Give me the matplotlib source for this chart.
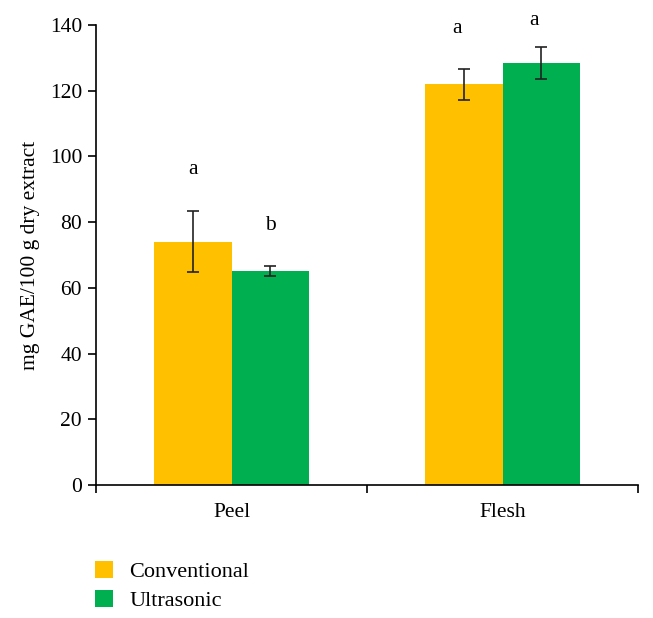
import matplotlib
matplotlib.use("Agg")
import matplotlib.pyplot as plt
import numpy as np
from matplotlib.patches import Patch

categories = ["Peel", "Flesh"]
series = ["Conventional", "Ultrasonic"]
conventional = [74.0, 122.0]
conventional_err = [9.3, 4.7]
ultrasonic = [65.1, 128.4]
ultrasonic_err = [1.5, 4.8]
letters_conv = ["a", "a"]
letters_ult = ["b", "a"]
letter_y_conv = [96, 139]
letter_y_ult = [79, 141.5]
colors = ["#FFC000", "#00B050"]

plt.rcParams['font.family'] = ['Liberation Serif', 'DejaVu Serif']
FS = 15.5

fig = plt.figure(figsize=(6.53, 6.18), dpi=100)
ax = fig.add_axes([96/653, 1-485/618, (638-96)/653, (485-25)/618])

x = np.arange(len(categories))
w = 0.285
ekw = dict(ecolor="#222222", elinewidth=1.2, capsize=4.5, capthick=1.2)
ax.bar(x - w/2, conventional, w, color=colors[0], yerr=conventional_err, error_kw=ekw, label=series[0])
ax.bar(x + w/2, ultrasonic, w, color=colors[1], yerr=ultrasonic_err, error_kw=ekw, label=series[1])

for i in range(len(categories)):
    dx = 0 if i == 0 else -0.025
    ax.text(x[i] - w/2 + dx, letter_y_conv[i], letters_conv[i], ha='center', va='center', fontsize=FS, clip_on=False)
    ax.text(x[i] + w/2 + dx, letter_y_ult[i], letters_ult[i], ha='center', va='center', fontsize=FS, clip_on=False)

ax.set_xlim(-0.5, 1.5)
ax.set_ylim(0, 140)
ax.set_yticks(np.arange(0, 141, 20))
ax.set_xticks([-0.5, 0.5, 1.5])
ax.set_xticklabels([])
ax.set_xticks(x, minor=True)
ax.set_xticklabels(categories, minor=True)
ax.tick_params(axis='x', which='minor', length=0, pad=13, labelsize=FS)
ax.tick_params(axis='x', which='major', length=6, width=1.2, direction='out')
ax.tick_params(axis='y', length=6, width=1.2, direction='out', pad=4, labelsize=FS)
for s in ['top', 'right']:
    ax.spines[s].set_visible(False)
for s in ['left', 'bottom']:
    ax.spines[s].set_linewidth(1.2)
ax.set_ylabel("mg GAE/100 g dry extract", fontsize=FS, labelpad=7)

handles = [Patch(facecolor=c, edgecolor='none') for c in colors]
fig.legend(handles, series, loc='upper left', bbox_to_anchor=(95/653, 1-561/618),
           frameon=False, borderpad=0, borderaxespad=0, fontsize=FS + 0.5,
           handlelength=0.8, handleheight=0.8, handletextpad=0.75, labelspacing=0.35)

fig.savefig("out.png", dpi=100)
